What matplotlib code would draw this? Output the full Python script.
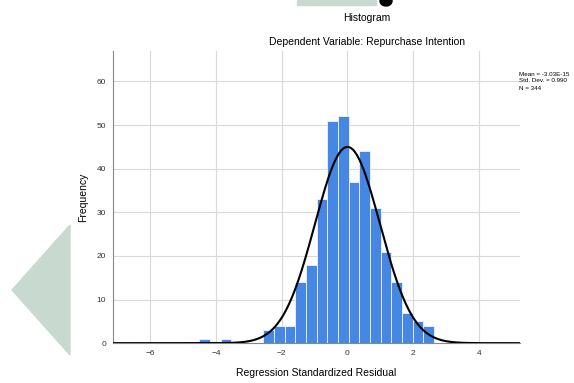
import numpy as np
import matplotlib
matplotlib.use("Agg")
import matplotlib.pyplot as plt
from matplotlib.patches import Polygon, Rectangle, Ellipse

plt.rcParams["font.family"] = ["Liberation Sans", "DejaVu Sans"]

# histogram counts, bins of equal width starting at bin_start
counts = [1, 0, 1, 0, 0, 0, 3, 4, 4, 14, 18, 33, 51, 52, 37, 44, 31, 21, 14, 7, 5, 4]
bin_start = -4.51
bin_width = 0.3246

# summary statistics shown in the chart
mean = 0.0
sd = 0.99
stats_text = ["Mean = -3.03E-15", "Std. Dev. = 0.990", "N = 344"]

x_ticks = [-6, -4, -2, 0, 2, 4]
y_ticks = [0, 10, 20, 30, 40, 50, 60]

title = "Histogram"
subtitle = "Dependent Variable: Repurchase Intention"
x_label = "Regression Standardized Residual"
y_label = "Frequency"

fig = plt.figure(figsize=(5.74, 3.83), dpi=100)
ax = fig.add_axes([0.197, 0.104, 0.709, 0.763])

edges = bin_start + bin_width * np.arange(len(counts) + 1)
ax.bar(edges[:-1], counts, width=bin_width, align="edge",
       color="#4587e3", edgecolor="white", linewidth=0.5, zorder=2)

# normal curve
xmin, xmax = -7.13, 5.25
xs = np.linspace(xmin, xmax, 400)
n = sum(counts)
ys = n * bin_width / (sd * np.sqrt(2 * np.pi)) * np.exp(-0.5 * ((xs - mean) / sd) ** 2)
ax.plot(xs, ys, color="black", linewidth=1.5, zorder=3)

ax.set_xlim(xmin, xmax)
ax.set_ylim(0, 67)
ax.set_xticks(x_ticks)
ax.set_yticks(y_ticks)
ax.tick_params(labelsize=6, length=0, pad=5, colors="#333333")
ax.grid(True, color="#d9d9d9", linewidth=0.8, zorder=0)
ax.set_axisbelow(True)
for s in ["top", "right"]:
    ax.spines[s].set_visible(False)
ax.spines["left"].set_color("#888888")
ax.spines["bottom"].set_color("#888888")

ax.set_xlabel(x_label, fontsize=7.5, labelpad=8)
ax.set_ylabel(y_label, fontsize=7.5, labelpad=6)

fig.text(367 / 574, 1 - 18 / 383, title, ha="center", va="center", fontsize=7.5)
fig.text(367 / 574, 1 - 42 / 383, subtitle, ha="center", va="center", fontsize=7.5)

for i, t in enumerate(stats_text):
    fig.text(519 / 574, 1 - (74 + 7 * i) / 383, t, ha="left", va="center", fontsize=4.5)

# overlay shapes present on the source picture
fig.patches.append(Polygon([[12 / 574, 1 - 290 / 383], [70 / 574, 1 - 225 / 383],
                            [70 / 574, 1 - 355 / 383]], closed=True,
                           transform=fig.transFigure, color="#c8d9cf", zorder=5))
fig.patches.append(Rectangle((297 / 574, 1 - 5 / 383), 79 / 574, 5 / 383,
                             transform=fig.transFigure, color="#c8d9cf", zorder=5))
fig.patches.append(Ellipse((386 / 574, 1 - 1 / 383), 12 / 574, 10 / 383,
                           transform=fig.transFigure, color="black", zorder=5))

fig.savefig("out.png", dpi=100)
